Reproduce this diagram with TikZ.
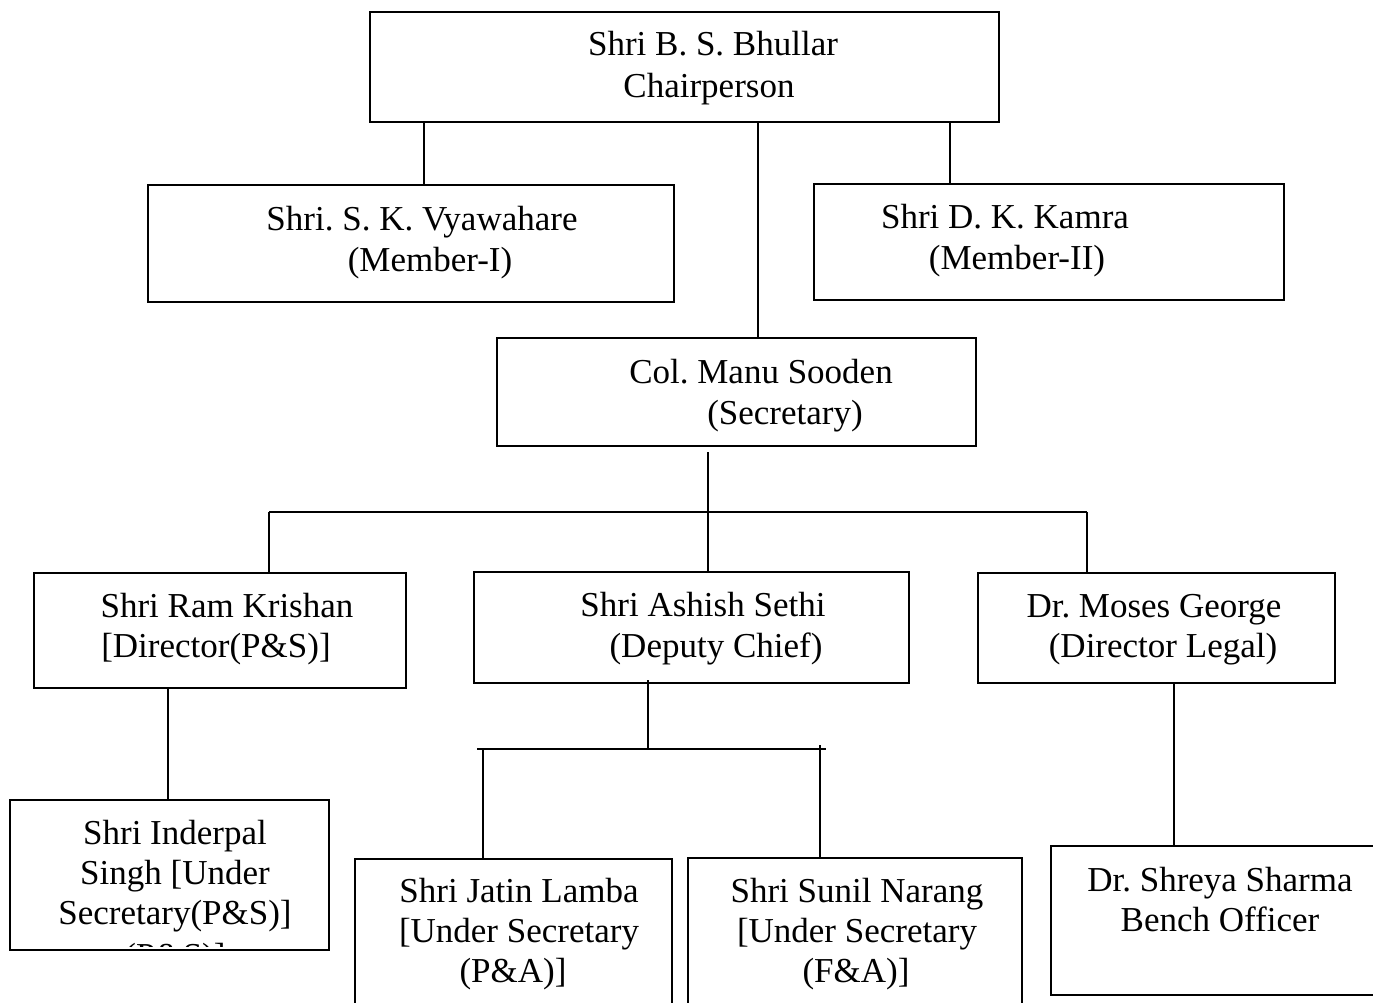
\documentclass[tikz,border=0pt]{standalone}
\usepackage{fontspec}
\setmainfont{Liberation Serif}
\frenchspacing
\begin{document}
\begin{tikzpicture}[x=1pt,y=-1pt,
  box/.style={draw,line width=1.8pt,inner sep=0pt},
  lbl/.style={anchor=base,inner sep=0pt,font=\fontsize{35}{41}\selectfont},
  conn/.style={line width=1.8pt}]
\clip (0,0) rectangle (1373,1002);
\fill[white] (0,0) rectangle (1373,1002);
% boxes
\node[box,minimum width=629pt,minimum height=110pt] (top) at (684.5,67) {};
\node[box,minimum width=526pt,minimum height=117pt] (vy) at (411,243.5) {};
\node[box,minimum width=470pt,minimum height=116pt] (ka) at (1049,242) {};
\node[box,minimum width=479pt,minimum height=108pt] (so) at (736.5,392) {};
\node[box,minimum width=372pt,minimum height=115pt] (rk) at (220,630.5) {};
\node[box,minimum width=435pt,minimum height=111pt] (se) at (691.5,627.5) {};
\node[box,minimum width=357pt,minimum height=110pt] (mg) at (1156.5,628) {};
\node[box,minimum width=319pt,minimum height=150pt] (ip) at (169.5,875) {};
\node[box,minimum width=317pt,minimum height=170pt] (jl) at (513.5,944) {};
\node[box,minimum width=334pt,minimum height=170pt] (sn) at (855,943) {};
\node[box,minimum width=340pt,minimum height=149pt] (ss) at (1221,920.5) {};
% texts
\node[lbl] (t1a) at (713,55) {Shri B. S. Bhullar};
\node[lbl] (t1b) at (709,97) {Chairperson};
\node[lbl] (t2a) at (422,230) {Shri. S. K. Vyawahare};
\node[lbl] (t2b) at (430,271) {(Member-I)};
\node[lbl] (t3a) at (1005,228) {Shri D. K. Kamra};
\node[lbl] (t3b) at (1017,269) {(Member-II)};
\node[lbl] (t4a) at (761,383) {Col. Manu Sooden};
\node[lbl] (t4b) at (785,424) {(Secretary)};
\node[lbl] (t5a) at (227,617) {Shri Ram Krishan};
\node[lbl] (t5b) at (216,657) {[Director(P\&S)]};
\node[lbl] (t6a) at (703,616) {Shri Ashish Sethi};
\node[lbl] (t6b) at (716,657) {(Deputy Chief)};
\node[lbl] (t7a) at (1154,617) {Dr. Moses George};
\node[lbl] (t7b) at (1163,657) {(Director Legal)};
\node[lbl] (t8a) at (175,844) {Shri Inderpal};
\node[lbl] (t8b) at (175,884) {Singh [Under};
\node[lbl] (t8c) at (175,924) {Secretary(P\&S)]};
\begin{scope}
\clip (20,930) rectangle (320,946);
\node[lbl] (t8d) at (175,967) {(P\&S)]};
\end{scope}
\node[lbl] (t9a) at (519,902) {Shri Jatin Lamba};
\node[lbl] (t9b) at (519,942) {[Under Secretary};
\node[lbl] (t9c) at (513,982) {(P\&A)]};
\node[lbl] (t10a) at (857,902) {Shri Sunil Narang};
\node[lbl] (t10b) at (857,942) {[Under Secretary};
\node[lbl] (t10c) at (856,982) {(F\&A)]};
\node[lbl] (t11a) at (1220,891) {Dr. Shreya Sharma};
\node[lbl] (t11b) at (1220,931) {Bench Officer};
% junction coordinates
\coordinate (jA) at (708,452);
\coordinate (jB) at (708,512);
\coordinate (jL) at (269,512);
\coordinate (jR) at (1087,512);
\coordinate (kA) at (648,680);
\coordinate (kB) at (648,749);
\coordinate (kL) at (477,749);
\coordinate (kR) at (826,749);
\coordinate (kl) at (483,749);
\coordinate (kr) at (820,745);
% connectors
\draw[conn] (top.south -| 424,0) -- (vy.north -| 424,0);
\draw[conn] (top.south -| 758,0) -- (so.north -| 758,0);
\draw[conn] (top.south -| 950,0) -- (ka.north -| 950,0);
\draw[conn] (jA) -- (se.north -| jA);
\draw[conn] (jL) -- (jR);
\draw[conn] (jL) -- (rk.north -| jL);
\draw[conn] (jR) -- (mg.north -| jR);
\draw[conn] (rk.south -| 168,0) -- (ip.north -| 168,0);
\draw[conn] (kA) -- (kB);
\draw[conn] (kL) -- (kR);
\draw[conn] (kl) -- (jl.north -| kl);
\draw[conn] (kr) -- (sn.north -| kr);
\draw[conn] (mg.south -| 1174,0) -- (ss.north -| 1174,0);
\end{tikzpicture}
\end{document}
